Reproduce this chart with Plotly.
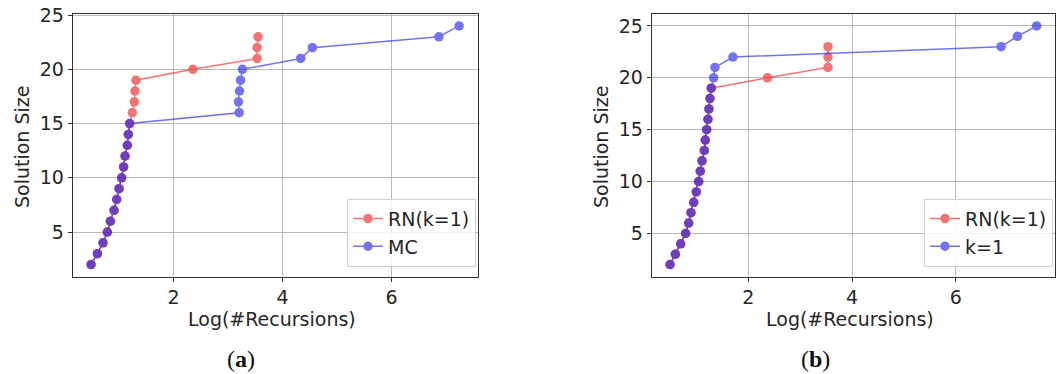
import plotly.graph_objects as go

# ---------------- data ----------------
# Panel (a)
a_rn_y = list(range(2, 24))
a_rn_x = [0.487, 0.603, 0.706, 0.786, 0.841, 0.908, 0.957, 1.0, 1.048, 1.085, 1.11,
          1.152, 1.17, 1.195, 1.244, 1.28, 1.293, 1.311, 2.355, 3.533, 3.533, 3.55]
a_mc_y = list(range(2, 25))
a_mc_x = [0.487, 0.603, 0.706, 0.786, 0.841, 0.908, 0.957, 1.0, 1.048, 1.085, 1.11,
          1.152, 1.17, 1.195, 3.203, 3.19, 3.21, 3.228, 3.264, 4.333, 4.546, 6.866, 7.238]

# Panel (b)
b_rn_y = list(range(2, 24))
b_rn_x = [0.494, 0.597, 0.699, 0.795, 0.853, 0.898, 0.95, 1.0, 1.046, 1.077, 1.11,
          1.154, 1.173, 1.2, 1.225, 1.244, 1.263, 1.289, 2.373, 3.538, 3.538, 3.538]
b_k1_y = list(range(2, 26))
b_k1_x = [0.494, 0.597, 0.699, 0.795, 0.853, 0.898, 0.95, 1.0, 1.046, 1.077, 1.11,
          1.154, 1.173, 1.2, 1.225, 1.244, 1.263, 1.289, 1.334, 1.36, 1.706, 6.873,
          7.187, 7.558]

x_ticks = [2, 4, 6]
y_ticks = [5, 10, 15, 20, 25]
x_title = "Log(#Recursions)"
y_title = "Solution Size"
captions = ["(<b>a</b>)", "(<b>b</b>)"]

# ---------------- styling ----------------
W, H = 1059, 374
RED = "rgb(235,30,30)"
BLUE = "rgb(30,30,235)"
OP = 0.62
FONT = "DejaVu Sans"
FS = 19
TXT = "#262626"


def px_x(p):
    return p / W


def px_y(p):
    return 1 - p / H


fig = go.Figure()


def add_series(x, y, name, color, xa, ya, legend):
    fig.add_trace(go.Scatter(
        x=x, y=y, name=name, mode="lines+markers",
        line=dict(color=color, width=1.5),
        marker=dict(color=color, size=9.5, line=dict(width=0)),
        opacity=OP, xaxis=xa, yaxis=ya, legend=legend,
    ))


add_series(a_rn_x, a_rn_y, "RN(k=1)", RED, "x", "y", "legend")
add_series(a_mc_x, a_mc_y, "MC", BLUE, "x", "y", "legend")
add_series(b_rn_x, b_rn_y, "RN(k=1)", RED, "x2", "y2", "legend2")
add_series(b_k1_x, b_k1_y, "k=1", BLUE, "x2", "y2", "legend2")

axis_common = dict(
    showline=True, mirror=True, linecolor="#333333", linewidth=1,
    ticks="outside", ticklen=4, tickcolor="#333333", tickwidth=1,
    showgrid=True, gridcolor="#b8b8b8", gridwidth=1, zeroline=False,
    ticklabeloverflow="allow", automargin=False,
    tickfont=dict(family=FONT, size=FS, color=TXT),
)

top, bottom = 14, 276.5
ydom = [px_y(bottom), px_y(top)]
a_left, a_right = 72.7, 477.5
b_left, b_right = 651.7, 1055

legend_common = dict(xanchor="right", yanchor="bottom",
                     bgcolor="rgba(255,255,255,0.85)", bordercolor="#d0d0d0",
                     borderwidth=1, font=dict(family=FONT, size=FS, color=TXT))

fig.update_layout(
    width=W, height=H,
    margin=dict(l=0, r=0, t=0, b=0, autoexpand=False),
    paper_bgcolor="white", plot_bgcolor="white",
    font=dict(family=FONT, size=FS, color=TXT),
    xaxis=dict(domain=[px_x(a_left), px_x(a_right)], range=[0.15, 7.575],
               tickvals=x_ticks, anchor="y", **axis_common),
    yaxis=dict(domain=ydom, range=[0.9, 25.1], tickvals=y_ticks, anchor="x",
               **axis_common),
    xaxis2=dict(domain=[px_x(b_left), px_x(b_right)], range=[0.141, 7.911],
                tickvals=x_ticks, anchor="y2", **axis_common),
    yaxis2=dict(domain=ydom, range=[0.85, 26.15], tickvals=y_ticks, anchor="x2",
                **axis_common),
    legend=dict(x=px_x(476), y=px_y(266.7), **legend_common),
    legend2=dict(x=px_x(1053), y=px_y(266.7), **legend_common),
)

annotations = []
for left, right, ytx, capx, cap in [(a_left, a_right, 22, 240.7, captions[0]),
                                    (b_left, b_right, 601, 816, captions[1])]:
    cx = (left + right) / 2
    annotations.append(dict(x=px_x(cx - 3), y=px_y(319), xref="paper", yref="paper",
                            text=x_title, showarrow=False, xanchor="center",
                            yanchor="middle",
                            font=dict(family=FONT, size=FS, color=TXT)))
    annotations.append(dict(x=px_x(ytx), y=px_y(147), xref="paper", yref="paper",
                            text=y_title, showarrow=False, textangle=-90,
                            xanchor="center", yanchor="middle",
                            font=dict(family=FONT, size=FS, color=TXT)))
    annotations.append(dict(x=px_x(capx), y=px_y(359), xref="paper", yref="paper",
                            text=cap, showarrow=False, xanchor="center",
                            yanchor="middle",
                            font=dict(family="Liberation Serif", size=24,
                                      color="#111111")))
fig.update_layout(annotations=annotations)

# remove the browser's default 8px body margin so the figure fills the window
fig.write_html("out.html",
               config={"displayModeBar": False},
               post_script="document.body.style.margin='0';"
                           "document.body.style.overflow='hidden';")
